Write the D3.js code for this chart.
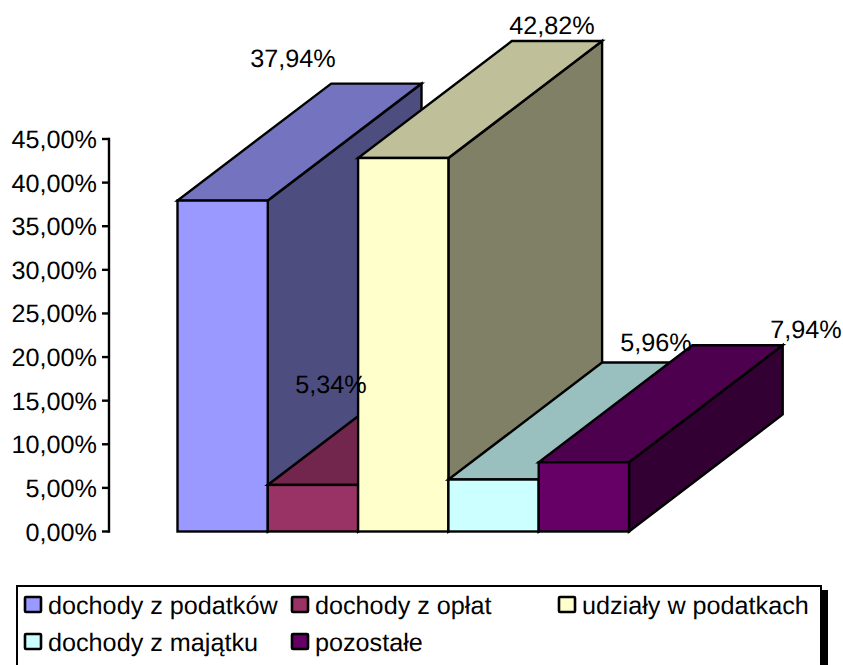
<!DOCTYPE html>
<html>
<head>
<meta charset="utf-8">
<script src="https://cdn.jsdelivr.net/npm/d3@7"></script>
<style>html,body{margin:0;padding:0;background:#fff;overflow:hidden}svg{display:block}text{font-family:"Liberation Sans",Arial,sans-serif;fill:#000;text-rendering:geometricPrecision}</style>
</head>
<body>
<div id="chart"></div>
<script>
const categories = ["dochody z podatków","dochody z opłat","udziały w podatkach","dochody z majątku","pozostałe"];
const values = [37.94,5.34,42.82,5.96,7.94];
const valueLabels = ["37,94%","5,34%","42,82%","5,96%","7,94%"];
const colors = ["#9999FF","#993366","#FFFFCC","#CCFFFF","#660066"];
const tickValues = [0,5,10,15,20,25,30,35,40,45];
const tickLabels = ["0,00%","5,00%","10,00%","15,00%","20,00%","25,00%","30,00%","35,00%","40,00%","45,00%"];

const W = 843, H = 665;
const depthX = 153.7, depthY = -117;
const fontSize = 25.2;
const x = d3.scaleBand().domain(categories).range([177.5,629]).padding(0);
const y = d3.scaleLinear().domain([0,45]).range([531.5,139]);
const svg = d3.select("#chart").append("svg").attr("width",W).attr("height",H);

const shade = (c,k) => { const r = d3.rgb(c); return d3.rgb(r.r*k,r.g*k,r.b*k).formatHex(); };
const poly = pts => pts.map(p => p.join(",")).join(" ");

const bars = svg.append("g").attr("stroke","#000").attr("stroke-width",2.4).attr("stroke-linejoin","miter");
categories.forEach((c,i) => {
  const x0 = x(c), x1 = x0 + x.bandwidth(), yt = y(values[i]), yb = y(0);
  bars.append("polygon").attr("fill",shade(colors[i],0.5))
    .attr("points",poly([[x1,yb],[x1+depthX,yb+depthY],[x1+depthX,yt+depthY],[x1,yt]]));
  bars.append("polygon").attr("fill",shade(colors[i],0.75))
    .attr("points",poly([[x0,yt],[x1,yt],[x1+depthX,yt+depthY],[x0+depthX,yt+depthY]]));
  bars.append("rect").attr("x",x0).attr("y",yt).attr("width",x1-x0).attr("height",yb-yt).attr("fill",colors[i]);
});

// value axis
const axis = svg.append("g").attr("stroke","#000").attr("stroke-width",2.4);
axis.append("line").attr("x1",109).attr("x2",109).attr("y1",y(45)-1.2).attr("y2",y(0)+1.2);
tickValues.forEach((t,i) => {
  axis.append("line").attr("x1",102).attr("x2",109).attr("y1",y(t)).attr("y2",y(t));
  svg.append("text").attr("x",97).attr("y",y(t)+9).attr("text-anchor","end")
    .attr("font-size",fontSize).text(tickLabels[i]);
});

// value labels
const labelPos = [[293,67],[331,393],[552,34],[656,351],[806,338]];
categories.forEach((c,i) => {
  svg.append("text").attr("x",labelPos[i][0]).attr("y",labelPos[i][1]).attr("text-anchor","middle")
    .attr("font-size",fontSize).text(valueLabels[i]);
});

// legend
const lg = svg.append("g");
lg.append("rect").attr("x",821).attr("y",590).attr("width",7).attr("height",80).attr("fill","#000");
lg.append("rect").attr("x",17).attr("y",586).attr("width",804).attr("height",90).attr("fill","#fff").attr("stroke","#000").attr("stroke-width",2);
const legendX = [25,292,559,25,292];
const legendY = [597,597,597,634,634];
categories.forEach((c,i) => {
  lg.append("rect").attr("x",legendX[i]).attr("y",legendY[i]).attr("width",16).attr("height",15)
    .attr("rx",1).attr("fill",colors[i]).attr("stroke","#000").attr("stroke-width",2.6);
  lg.append("text").attr("x",legendX[i]+23).attr("y",legendY[i]+17).attr("font-size",fontSize).text(c);
});
</script>
</body>
</html>
